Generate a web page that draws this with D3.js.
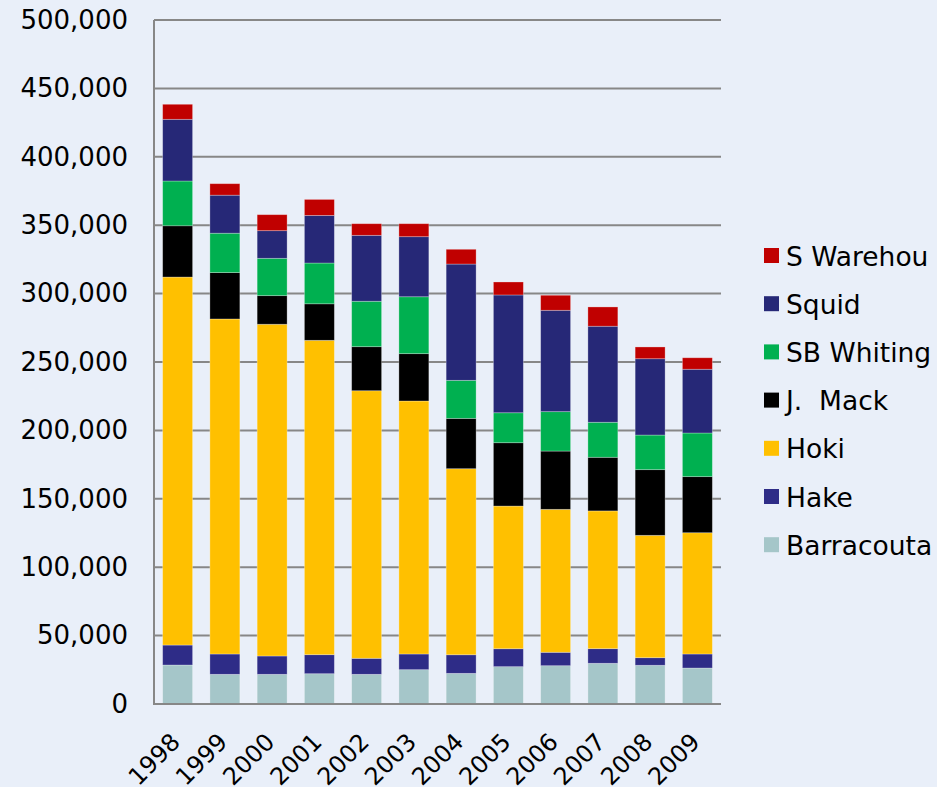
<!DOCTYPE html>
<html>
<head>
    <meta charset="utf-8">
    <script src="https://d3js.org/d3.v7.min.js"></script>
    <style>
        body { margin: 0; background: #e9eff9; }
        text { font-family: "DejaVu Sans", Verdana, sans-serif; fill: #000; }
    </style>
</head>
<body></body>
<script>
    // data (tonnes)
    var years = ["1998","1999","2000","2001","2002","2003","2004","2005","2006","2007","2008","2009"];
    var barracouta = [28500, 21700, 21700, 22150, 21700, 25100, 22400, 27300, 28000, 29750, 28300, 26300];
    var hake       = [14600, 14850, 13400, 13900, 11700, 11450, 13600, 13100,  9800, 10700,  5550, 10250];
    var hoki       = [269000, 244900, 242500, 229800, 195600, 184950, 136000, 104300, 104500, 100700, 89450, 88650];
    var jmack      = [37500, 33900, 20900, 26700, 32200, 34600, 36800, 46300, 42600, 39200, 48000, 41000];
    var sbWhiting  = [32700, 28800, 27300, 29800, 33200, 41600, 27800, 21900, 28800, 25600, 25300, 31900];
    var squid      = [45100, 27800, 20200, 34800, 48200, 43900, 85000, 86100, 74100, 70200, 55800, 46600];
    var sWarehou   = [11000,  8400, 11700, 11700,  8500,  9500, 10800,  9500, 11000, 14100,  8600,  8400];

    var seriesNames = ["Barracouta","Hake","Hoki","J.  Mack","SB Whiting","Squid","S Warehou"];
    var seriesColors = ["#a5c6c9","#2e2c87","#ffc000","#000000","#00b050","#262877","#c00000"];
    var yTicks = [0,50000,100000,150000,200000,250000,300000,350000,400000,450000,500000];

    var seriesVals = [barracouta, hake, hoki, jmack, sbWhiting, squid, sWarehou];
    var rows = years.map(function(y, i) {
        var r = {year: y};
        seriesNames.forEach(function(n, k) { r[n] = seriesVals[k][i]; });
        return r;
    });

    var W = 937, H = 787;
    var plotL = 154, plotR = 721, plotT = 20, plotB = 704;

    var svg = d3.select("body").append("svg")
        .attr("width", W).attr("height", H);

    svg.append("rect").attr("width", W).attr("height", H).attr("fill", "#e9eff9");

    var x = d3.scaleBand().domain(years).range([plotL, plotR]).paddingInner(0.366).paddingOuter(0.183);
    var y = d3.scaleLinear().domain([0, 500000]).range([plotB, plotT]);

    // gridlines
    svg.append("g").selectAll("line").data(yTicks.slice(1)).join("line")
        .attr("x1", plotL).attr("x2", plotR)
        .attr("y1", function(d) { return y(d); }).attr("y2", function(d) { return y(d); })
        .attr("stroke", "#878787").attr("stroke-width", 2);

    // y axis
    var yAxis = svg.append("g")
        .attr("transform", "translate(" + plotL + ",0)")
        .call(d3.axisLeft(y).tickValues(yTicks).tickFormat(d3.format(",")).tickSize(0).tickPadding(26));
    yAxis.select(".domain").remove();
    yAxis.selectAll("text").style("font-size", "26px").style("font-family", "DejaVu Sans, Verdana, sans-serif").attr("fill", "#000");

    var stack = d3.stack().keys(seriesNames);
    var layers = stack(rows);

    svg.append("g").selectAll("g").data(layers).join("g")
        .attr("fill", function(d, i) { return seriesColors[i]; })
      .selectAll("rect").data(function(d) { return d; }).join("rect")
        .attr("x", function(d) { return x(d.data.year); })
        .attr("width", x.bandwidth())
        .attr("y", function(d) { return y(d[1]); })
        .attr("height", function(d) { return y(d[0]) - y(d[1]); })
        .attr("stroke", "rgba(255,255,255,0.35)").attr("stroke-width", 0.8);

    // axis lines
    svg.append("line").attr("x1", plotL).attr("x2", plotL).attr("y1", plotT).attr("y2", plotB)
        .attr("stroke", "#878787").attr("stroke-width", 2);
    svg.append("line").attr("x1", plotL - 1).attr("x2", plotR).attr("y1", plotB).attr("y2", plotB)
        .attr("stroke", "#878787").attr("stroke-width", 2);

    // x labels
    var xAxis = svg.append("g")
        .attr("transform", "translate(0," + plotB + ")")
        .call(d3.axisBottom(x).tickSize(0).tickPadding(0));
    xAxis.select(".domain").remove();
    xAxis.selectAll("text")
        .style("font-size", "24px").style("font-family", "DejaVu Sans, Verdana, sans-serif").attr("fill", "#000")
        .attr("text-anchor", "end")
        .attr("dy", "0.35em")
        .attr("transform", "translate(-2,33.5) rotate(-45)");

    // legend, top item is last series
    var legendItems = seriesNames.map(function(n, i) { return {name: n, color: seriesColors[i]}; }).reverse();
    var lg = svg.append("g").selectAll("g").data(legendItems).join("g")
        .attr("transform", function(d, i) { return "translate(764," + (248 + i * 48.2) + ")"; });
    lg.append("rect").attr("width", 15).attr("height", 15).attr("fill", function(d) { return d.color; });
    lg.append("text").attr("x", 22).attr("y", 8).attr("dy", "0.36em")
        .style("font-size", "26.5px").style("white-space", "pre")
        .text(function(d) { return d.name; });
</script>
</html>
